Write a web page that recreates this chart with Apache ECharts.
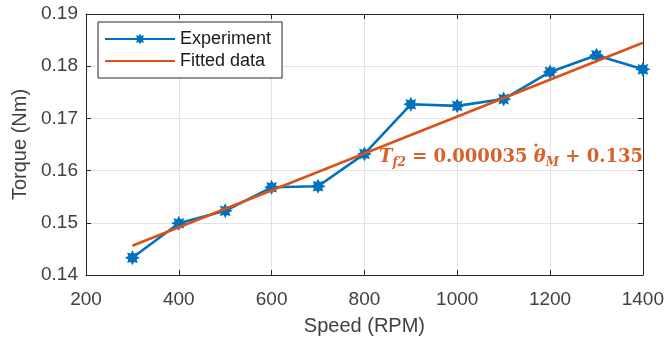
<!DOCTYPE html>
<html>
<head>
<meta charset="utf-8">
<script src="https://cdn.jsdelivr.net/npm/echarts@6/dist/echarts.min.js"></script>
<style>
  html, body { margin: 0; padding: 0; background: #fff; }
  #chart { width: 667px; height: 343px; }
</style>
</head>
<body>
<div id="chart"></div>
<script>
// speed (RPM) and measured torque (Nm)
var speeds = [300, 400, 500, 600, 700, 800, 900, 1000, 1100, 1200, 1300, 1400];
var torque = [0.1433, 0.1499, 0.1523, 0.1568, 0.1570, 0.1632, 0.1727, 0.1724, 0.1737, 0.1789, 0.1821, 0.1794];

// fitted line end points
var fitSpeeds = [300, 1400];
var fitTorque = [0.1456, 0.1845];

(function () {
    var chart = echarts.init(document.getElementById('chart'));
    var font = '"Liberation Sans", Arial, Helvetica, sans-serif';
    var serif = '"DejaVu Serif", "Liberation Serif", serif';
    var axisColor = '#262626';
    var labelColor = '#404040';
    var eqColor = '#D9602A';

    // asterisk-like star marker (matlab '*' drawn thick)
    var pts = [];
    for (var i = 0; i < 16; i++) {
        var a = i * Math.PI / 8 - Math.PI / 2;
        var r = (i % 2 === 0) ? 10 : 6;
        pts.push((10 + r * Math.cos(a)).toFixed(2) + ' ' + (10 + r * Math.sin(a)).toFixed(2));
    }
    var starPath = 'path://M' + pts.join(' L') + ' Z';

    var expData = speeds.map(function (s, i) { return [s, torque[i]]; });
    var fitData = fitSpeeds.map(function (s, i) { return [s, fitTorque[i]]; });

    var option = {
        backgroundColor: '#fff',
        animation: false,
        grid: { left: 86, top: 14, right: 23, bottom: 68 },
        legend: {
            orient: 'vertical',
            left: 98,
            top: 22,
            backgroundColor: '#fff',
            borderColor: axisColor,
            borderWidth: 1,
            padding: [8, 11, 8, 6],
            itemGap: 4,
            itemWidth: 70,
            itemHeight: 14,
            textStyle: { fontFamily: font, fontSize: 18, color: '#1a1a1a' },
            data: [
                { name: 'Experiment' },
                { name: 'Fitted data', itemStyle: { color: 'rgba(0,0,0,0)', borderWidth: 0 } }
            ]
        },
        xAxis: [{
            type: 'value',
            min: 200, max: 1400, interval: 200,
            name: 'Speed (RPM)',
            nameLocation: 'middle',
            nameGap: 41,
            nameTextStyle: { fontFamily: font, fontSize: 20, color: labelColor },
            axisLine: { lineStyle: { color: axisColor, width: 1 } },
            axisTick: { inside: true, length: 5, lineStyle: { color: axisColor } },
            axisLabel: {
                fontFamily: font, fontSize: 19, color: labelColor, margin: 15,
                formatter: function (v) { return String(v); }
            },
            splitLine: { show: true, lineStyle: { color: '#e3e3e3', width: 1 } }
        }, {
            type: 'value', position: 'top',
            min: 200, max: 1400, interval: 200,
            axisLine: { onZero: false, lineStyle: { color: axisColor, width: 1 } },
            axisTick: { inside: true, length: 5, lineStyle: { color: axisColor } },
            axisLabel: { show: false },
            splitLine: { show: false }
        }],
        yAxis: [{
            type: 'value',
            min: 0.14, max: 0.19, interval: 0.01,
            name: 'Torque (Nm)',
            nameLocation: 'middle',
            nameGap: 56,
            nameTextStyle: { fontFamily: font, fontSize: 20, color: labelColor },
            axisLine: { show: true, lineStyle: { color: axisColor, width: 1 } },
            axisTick: { show: true, inside: true, length: 5, lineStyle: { color: axisColor } },
            axisLabel: {
                fontFamily: font, fontSize: 19, color: labelColor, margin: 8,
                formatter: function (v) { return v.toFixed(2); }
            },
            splitLine: { show: true, lineStyle: { color: '#e3e3e3', width: 1 } }
        }, {
            type: 'value', position: 'right',
            min: 0.14, max: 0.19, interval: 0.01,
            axisLine: { show: true, onZero: false, lineStyle: { color: axisColor, width: 1 } },
            axisTick: { show: true, inside: true, length: 5, lineStyle: { color: axisColor } },
            axisLabel: { show: false },
            splitLine: { show: false }
        }],
        series: [{
            name: 'Experiment',
            type: 'line',
            data: expData,
            symbol: starPath,
            symbolSize: 15,
            lineStyle: { color: '#0072BD', width: 2.6 },
            itemStyle: { color: '#0072BD' },
            z: 2
        }, {
            name: 'Fitted data',
            type: 'line',
            data: fitData,
            symbol: 'none',
            lineStyle: { color: '#D95319', width: 2.6 },
            itemStyle: { color: '#D95319' },
            z: 3
        }],
        graphic: [{
            type: 'text',
            left: 379,
            top: 148,
            z: 10,
            style: {
                text: '{i|T}{s|f2}{m| = 0.000035 }{i|θ}{s|M}{m| + 0.135}',
                fill: eqColor,
                rich: {
                    m: {
                        fontFamily: serif, fontWeight: 'bold',
                        fontSize: 18, lineHeight: 24, verticalAlign: 'middle',
                        fill: eqColor
                    },
                    i: {
                        fontFamily: serif, fontWeight: 'bold', fontStyle: 'italic',
                        fontSize: 18, lineHeight: 24, verticalAlign: 'middle',
                        fill: eqColor
                    },
                    s: {
                        fontFamily: serif, fontWeight: 'bold', fontStyle: 'italic',
                        fontSize: 12, lineHeight: 12, verticalAlign: 'bottom',
                        fill: eqColor
                    }
                }
            }
        }, {
            // dot over theta
            type: 'circle',
            shape: { cx: 536, cy: 145, r: 1.6 },
            style: { fill: eqColor },
            z: 10
        }]
    };

    chart.setOption(option);
    window.addEventListener('resize', chart.resize);
})();
</script>
</body>
</html>
